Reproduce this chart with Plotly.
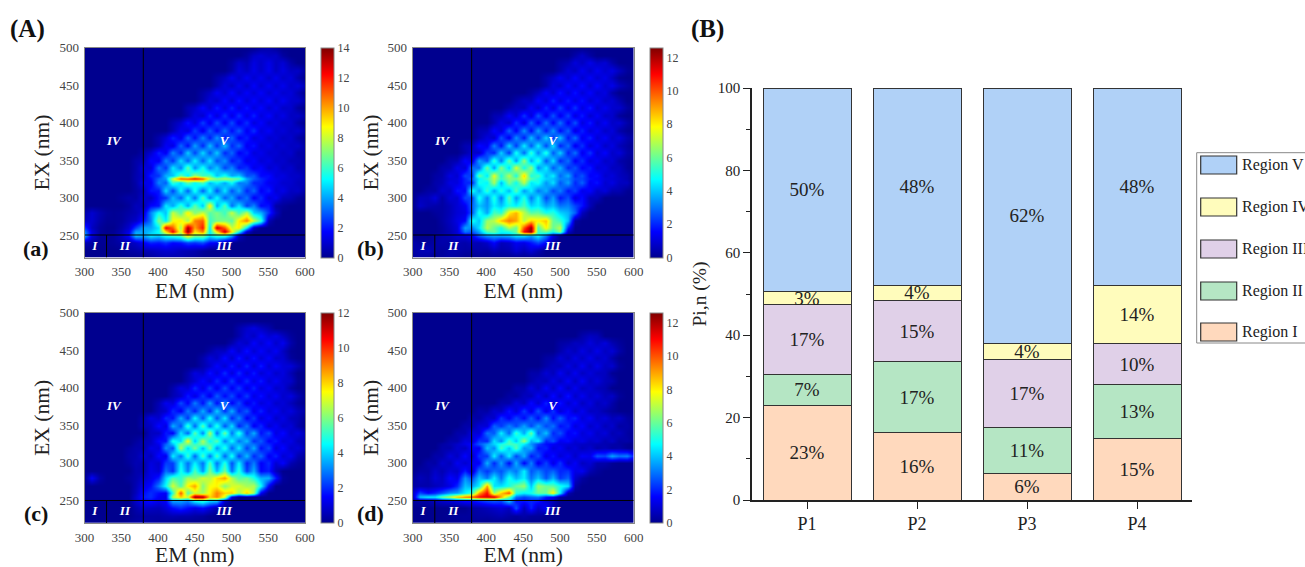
import plotly.graph_objects as go

W, H = 1305, 567
FONT = "Liberation Serif"

# ---------- data ----------
EM = list(range(300, 601, 10))
EX = [500,490,480,470,460,450,440,430,420,410,400,390,380,370,360,350,340,330,325,320,310,300,290,280,270,260,255,250,240,230,220]

# one entry per EX row (top to bottom): EM where the non-zero run starts, values in 10 nm steps; the rest of the row is 0
EEM_A = [
 (540,[.3,.5,.2]),
 (520,[.3,.9,1.1,.8,.9,.3]),
 (500,[.3,.9,.6,1.3,.9,1.4,.8,1.1,.4]),
 (500,[.4,1.2,.8,1.4,.9,1.5,.8,1.3,.8,.9,.2]),
 (480,[.4,.8,1.5,.9,1.6,1,1.5,.9,1.5,.9,1.2,.5]),
 (480,[.5,1.2,.8,1.5,.9,1.7,1,1.6,1,1.5,.9,1.2,.6]),
 (460,[.4,.8,1.6,1,1.8,1,1.7,1.1,1.7,1,1.5,1,1.2,.6]),
 (460,[.5,1.2,.9,1.8,1,2,1.1,1.8,1.1,1.8,1,1.6,1,1,.4]),
 (440,[.6,.9,1.8,1,2.1,1.2,2.2,1.2,2,1.2,1.8,1,1.5,.9,1,.3]),
 (440,[.5,1.3,1,2.2,1.2,2.4,1.3,2.4,1.3,2.2,1.2,1.8,1,1.4,.8,.9,.4]),
 (420,[.5,1,2,1.2,2.6,1.4,2.8,1.5,2.8,1.4,2.4,1.2,1.8,1,1.3,.9,1,.4]),
 (420,[.6,1.5,1.2,2.6,1.4,3,1.7,3.2,1.8,3,1.5,2.4,1.2,1.7,1,1.2,.8,1,.4]),
 (400,[.5,1.1,2.2,1.4,3.2,1.8,3.6,2,3.8,2,3.2,1.6,2.2,1.2,1.6,1,1.2,.8,1,.4,.1]),
 (400,[.5,1.6,1.3,3.2,1.8,4,2.2,4.4,2.4,4.4,2.2,3.2,1.5,2,1.1,1.4,.9,1.1,.8,.9,.3]),
 (380,[.4,1,2.2,1.5,3.6,2.2,4.6,2.6,4.8,2.8,4.6,2.2,3.2,1.6,2.2,1.2,1.5,1,1.1,.8,1,.4,.4]),
 (370,[.4,.6,1.8,1.5,3.6,2.4,4.8,3,5.2,3,5,2.8,3.8,2,2.6,1.4,1.8,1.1,1.4,.9,1,.6,.6,.3]),
 (370,[.4,1.2,1.2,3.4,2.4,5,3.4,6.6,3.6,5.6,3.4,4.6,2.6,3.6,2,2.4,1.4,1.8,1,1.3,.8,1,.5,.5]),
 (370,[.5,.9,2.2,2.4,4.2,4.4,6.6,5,7.4,6,6.4,4.4,5.6,4,4.6,2.8,3,1.8,1.9,1.2,1.3,.9,.9,.5]),
 (370,[.5,1,1.8,3.2,3.8,8,11,11,12,11,8,7,7.5,7,6.5,4,3,2.3,1.8,1.4,1.2,1,.8,.6]),
 (370,[.4,1.4,1.5,3.6,3,6,4.8,6.6,5.2,6.4,4.2,5.2,4,5.4,3.4,3.6,2.2,2.2,1.5,1.4,1,1,.7,.6]),
 (370,[.3,.7,2,2,4.8,2.6,5.2,3,5.6,3,5.4,2.8,5,2.8,4.2,2.2,3.2,1.6,2.2,1.1,1.4,.8,.9,.3]),
 (350,[.2,.4,.3,1,.8,2,2.4,4.4,3,5.4,3.2,6.4,3.4,5.4,3,4.2,2.4,3.4,1.6,2.4,1.2,1.6,.7,.6,.2]),
 (360,[.2,.7,.6,1.8,2,5,4,6,4,6.6,4.4,9,4,6.4,3.2,5,2.6,3.6,1.8,2,.4,.2]),
 (300,[.4,1,.5,.2,.1,.2,.4,.6,1.2,3.6,5.4,4.4,8,6.4,9,7,8,6.4,7,6,8,6,7.8,4.6,4.2,2.4,.8]),
 (300,[.8,1,.4,.1,.1,.2,.6,.9,2,3.4,7,5,8.6,9,7.4,10.5,11,6,6.8,7,6.4,9,10.5,8,6,.6]),
 (300,[2.4,.8,.2,0,0,.4,1,2.6,4,4,5,12.5,11,7.4,13.5,10,12,5,13,11,8,9,5,.8]),
 (300,[3.5,1.2,.2,0,.1,.6,1.4,4,4,4.5,5.4,9,12.5,8,13.8,9,10.5,5,9,13,9,5.5,1]),
 (300,[4,1.2,.2,.1,.2,.8,1.8,4.4,4,5,4.6,5.6,6,6.4,9,7,7,5,6,6,4,.8]),
 (300,[.6,.3,.1,.1,.2,.4,.6,.9,1.6,2.2,2,2.4,1.8,2,2.6,2.4,2.8,1.8,1.6,.3]),
 (350,[.1,.3,.4,.6,.7,.9,1,1,.7,.6,.5,.2]),
 (390,[.2,.4,.5,.4,.5,.3,.2]),
]
EEM_B = [
 (300,[0]),
 (520,[.4,.8,.3]),
 (500,[.3,.5,1.1,.7,1.3,.8,1,.4]),
 (500,[.4,1,.7,1.4,.8,1.4,.9,1.2,.7,.2]),
 (480,[.4,.8,1.4,.9,1.6,.9,1.5,.9,1.3,.7,.1]),
 (480,[.4,1.1,.8,1.6,1,1.7,.9,1.6,.9,1.3,.7,.3]),
 (460,[.3,.7,1.5,.9,1.8,1,1.8,1,1.6,.9,1.2,.4]),
 (440,[.4,.8,.7,1.6,1,2,1.1,1.9,1.1,1.8,.9,1.4,.8,1,.5]),
 (430,[.4,.7,.6,1.5,.9,2,1.1,2.3,1.2,2.2,1.1,1.9,.9,1.4,.9,.9,.3]),
 (410,[.5,.6,1.5,.9,2.2,1.1,2.6,1.3,2.6,1.3,2.4,1.1,1.9,.9,1.5,.8,.9,.2]),
 (410,[.5,1.2,.8,2.2,1.1,2.8,1.4,3,1.5,3,1.4,2.6,1.1,1.9,.9,1.5,.8,1,.4]),
 (390,[.5,.6,1.6,1,2.8,1.4,3.4,1.6,3.6,1.8,3.4,1.6,2.8,1.1,2,1,1.5,.8,1.1,.4,.1]),
 (390,[.5,1.1,.8,2.6,1.3,3.4,1.8,4,2.2,4.2,2.2,4,1.8,3,1.3,2,1,1.5,.8,1.1,.5,.2]),
 (370,[.5,.6,1.7,1.3,3.2,1.7,4.2,2.2,4.6,2.6,4.6,2.4,4.4,1.9,3,1.3,2.2,1,1.6,.8,1.2,.6,.3]),
 (370,[.4,.9,.8,2.4,2,4.2,2.2,5,2.8,5.4,3.2,5.2,2.6,4.2,1.9,3,1.3,2.2,1,1.6,.8,1.1,.4,.2]),
 (350,[.4,.5,1.6,1.1,3.6,2.6,5.4,3,6,3.4,6.6,3.6,5.4,2.6,4.4,2,3,1.4,2.2,1.1,1.5,.8,1,.4,.2]),
 (340,[.4,.5,1.3,1,3,2.8,6,3.4,6.4,4.2,7.4,4.8,6.6,3.2,4.6,2.6,3.8,2,2.6,1.5,1.9,1,1.2,.7,.7,.2]),
 (330,[.3,.4,1.2,.9,2.4,2.2,6,4.4,7.6,5,7,5,8.4,5,5.6,3.8,4.6,2.8,3.8,2,2.6,1.5,1.7,.9,1.1,.7,.5]),
 (330,[.3,.5,1,1.1,2,2.8,4.6,5.4,7,5.4,6.4,6.2,7.6,5.8,5,4.2,4,3.2,3.2,2.4,2.4,1.7,1.5,1.1,1,.8,.5]),
 (330,[.4,.5,1.2,1.1,2,2,5,4.6,6.8,3.8,6.2,4.8,7,4.4,5,3.4,4.4,2.6,3.6,2,2.8,1.4,1.8,.9,1.2,.7,.7]),
 (320,[.3,.3,.9,.7,1.8,1.6,5,3.6,5.4,3.6,5.2,3.8,5.8,3.4,4.6,3,3.8,2.4,3.2,1.8,2.4,1.3,1.6,.8,1.1,.5,.5,.1]),
 (310,[.6,.6,1.1,.3,1,.9,2.4,2.4,5,3.2,5.2,3,5.8,3.4,5.2,3,4.6,2.4,3.6,1.8,2.6,1.1,1.7,.6,.6]),
 (310,[.8,.5,.4,.3,.6,1,1.4,2.8,4,3.4,4.6,4,5,4.6,5.6,4.2,4.6,3.6,4,3,3.2,2.4,1.8,.6]),
 (330,[.2,.3,.6,1,1.2,2.6,5,3.6,5.6,5.2,8,8.8,7,5.8,6,5,5.2,4.2,3.8,2.8,.7]),
 (340,[.3,.7,1.2,1.6,5,4,6.6,7,8.6,9.5,9,7,8.4,8,8.6,6,5.4,4,.3]),
 (340,[.2,.6,1,3.6,3.2,4.4,7,6,5,7,6,10,12.4,5.6,8,6,7,2]),
 (340,[.2,.5,1,3,2.6,3.6,5.6,6,4.8,5,6,11,12.5,5.4,6,5,6.4,.8]),
 (330,[.2,.4,.6,.9,1,1.4,2.6,3.4,3.6,3.6,3.8,4.4,4.4,3.6,4.6,3,1.2]),
 (300,[.4,.2,.2,.3,.4,.3,.5,.4,.6,.5,.8,1.6,.6,.8,1.4,1.2,1.8,2.4,1.6,.2]),
 (300,[.3,.5,.6,.3,.2,.4,.4,.3,.3,.4,.3,.6,.4,.5,1,.6,1,.5]),
 (300,[.2,.3,.2,.1,.2,.3,.2]),
]
EEM_C = [
 (300,[0]),
 (300,[0]),
 (510,[.4,.8,1.1,.7,.4]),
 (510,[.4,1,.7,1.4,.9,1.2,.7,.2]),
 (500,[.4,1,.7,1.5,.9,1.5,.8,1.3,.4]),
 (470,[.3,.7,.7,1.5,.8,1.7,.9,1.5,.9,1.4,.7,.1]),
 (460,[.4,1,.7,1.6,.8,1.8,.9,1.7,.9,1.5,.8,.9,.2]),
 (460,[.4,.8,1.5,.9,1.8,1,1.9,.9,1.8,.9,1.5,1,1,.5]),
 (440,[.4,1.1,.8,1.7,1,2,1,2,1,1.8,.9,1.4,.8,1.1,.5]),
 (440,[.5,.9,1.6,1,2,1.1,2.2,1.1,2,1.1,1.8,.9,1.4,.9,.8,.1]),
 (420,[.4,1.1,.9,2,1.1,2.2,1.2,2.4,1.3,2.2,1.1,1.9,1,1.5,.8,1,.3]),
 (420,[.5,.8,1.8,1.1,2.2,1.2,2.6,1.5,2.4,1.3,2.2,1.1,1.7,1,1.4,.8,1.1,.5]),
 (400,[.5,1.3,1,2.4,1.4,3,1.6,3.4,1.6,3,1.4,2.4,1.1,1.8,1,1.4,.8,1,.6,.2]),
 (400,[.6,.8,2,1.3,3,1.8,3.6,1.9,4,2,3.6,1.8,2.6,1.2,1.9,1,1.4,.8,1.1,.6,.3]),
 (380,[.4,1.1,.8,2,1.6,3.6,2,4.6,2.4,4.8,2.4,4.4,1.9,3.2,1.4,2.2,1,1.6,.8,1.2,.6,.5]),
 (380,[.5,.7,1.6,1.1,3.6,2.4,5.2,2.6,5.6,2.8,5,2.4,4.2,1.8,3,1.3,2,.9,1.4,.8,1,.4]),
 (390,[.7,.7,1.8,1.4,4.2,2.6,5.6,3,6.6,2.8,5.8,2.8,5,2.2,3.6,1.6,2.4,1.1,1.6,.8,1.1,.5]),
 (370,[.2,.5,.7,1.6,1.6,4.8,4,7.4,3.8,6.6,4.4,5.6,3,4.6,2.8,3.8,2,2.6,1.4,1.8,1,1.2,.6,.5]),
 (370,[.3,.5,.8,1.3,2.6,3.8,5.8,6,5,6,5.2,4.6,4,3.6,3.6,3,2.8,2.2,1.9,1.4,1.3,1,.8,.4]),
 (360,[.2,.4,.4,1.2,1,3.2,2.4,6.6,4,6,3.6,6,3.2,5,2.6,4.4,2.2,3.6,1.6,2.4,1,1.6,.8,1,.5]),
 (360,[.3,.4,.9,.6,1.6,1.2,4.4,2.8,5.2,2.6,5.4,2.8,5.4,2.6,4.8,2.2,3.8,1.9,2.8,1.3,1.9,.9,1.3,.5,.2]),
 (360,[.2,.5,.4,1.1,.8,2.2,2.2,4.4,2.8,4.4,2.8,5.4,2.8,5,2.4,4.4,1.9,3,1.4,2,.9,1.5,.5,.2]),
 (370,[.4,.4,1.2,.9,2.8,2,4.8,3,5.4,3.2,6,3.6,5.8,2.8,5,2.2,3.6,1.5,1.8,.6]),
 (310,[1.4,.3,0,0,0,.2,.4,.8,1.2,1.8,4,5.4,5,6.4,6,7,6.6,7.8,8.6,6.6,5.4,5.8,4.8,3.6,3.6,1.8,.2]),
 (370,[.5,1.2,1.6,3,4.6,7,5.4,7.6,8.6,6,7.4,7.6,6,7,7,6.4,6.6,4.6,1.4]),
 (370,[.6,1.6,2,1.6,1.4,5,9.5,5.4,7,6.4,7.6,9,8,8,6.4,8,6.4,1.4]),
 (370,[.8,1.8,2,1.4,1.2,6.6,8,7,11.8,11.5,8,9,7,1]),
 (370,[.8,1.4,1.6,1.2,1.4,3.4,3.4,3,4.4,5,4,3.8,.8]),
 (370,[.4,.8,.7,.6,1,1.6,2,1.6,1.2,1.6,1,.4]),
 (370,[.2,.3,.3,.3,.4,.5,.4,.4,.3,.2]),
 (300,[.2,0,0,0,0,0,.2,.3,.4,.3,.2,.2]),
]
EEM_D = [
 (300,[0]),
 (300,[0]),
 (300,[0]),
 (530,[.4,.7,.6]),
 (500,[.3,.4,.7,.6,1.1,.7,1.1,.5,.2]),
 (500,[.4,.9,.6,1.2,.7,1.3,.7,1,.4]),
 (480,[.3,.4,1,.6,1.2,.7,1.3,.7,1,.4]),
 (480,[.4,.7,.6,1.2,.7,1.4,.7,1.3,.7,.9,.2]),
 (460,[.4,.4,1,.6,1.4,.7,1.4,.7,1.1,.7,.7,.1]),
 (460,[.4,.7,.6,1.2,.7,1.5,.7,1.5,.7,1.1,.6,.5]),
 (440,[.4,.4,1.1,.6,1.5,.7,1.6,.7,1.4,.7,1,.6,.5]),
 (430,[.3,.2,.7,.6,1.4,.7,1.7,.8,1.8,.8,1.4,.8,1.1,.6,.8,.2]),
 (420,[.4,.4,1.1,.7,1.7,.9,2,.9,1.8,.9,1.5,.7,1.2,.6,.9,.4]),
 (390,[.4,.3,.9,.7,1.8,1,2.3,1.2,2.6,1.2,2.2,1,1.7,.8,1.4,.7,.8,.4,.2]),
 (380,[.4,.3,.9,.8,2.2,1.4,2.4,1.6,2.8,1.6,3.4,1.6,2.8,1.6,2,1,1.5,.8,1.1,.6,.8,.3,.1]),
 (370,[.4,.4,1,1,2.8,2.2,3.2,2.4,3.6,2.4,3.6,2.4,3,1.7,2.1,1.1,1.6,.8,1.2,.6,.9,.3,.4,.1]),
 (360,[.4,.4,1.1,1,3,2.6,4.6,2.8,5.4,3.6,6,2.8,4,2,2.6,1.4,1.8,1,1.4,.8,1.1,.5,.7,.3,.1]),
 (350,[.4,.4,1.1,1,2.2,2,4.4,3.2,5.6,4,6.6,3.8,4.6,2,2.6,1.4,1.7,1,1.3,.8,1,.5,.8,.3,.4,.1]),
 (340,[.3,.5,.8,1.2,1.6,2.6,3.4,4.2,5,5.6,5.4,4.6,3.4,2.4,1.7,1.5,1.2,1.1,.9,.8,.7,.6,.5,.4,.3,.1]),
 (340,[.4,.4,.9,.7,1.6,1.4,4,3.2,5.6,4,5.8,3.4,3.8,1.8,2,1.1,1.5,.8,1.1,.6,.9,.4,.6,.3,.4,.1]),
 (330,[.4,.4,1.1,.7,1.6,.8,2.2,2.2,4.6,2.6,4.6,2.4,3.8,1.8,2.6,1.2,1.8,1,1.5,.8,1.5,1.3,2.6,2.4,3.6,3,3.2,1.9]),
 (320,[.4,.3,.9,.6,1.4,.9,1.4,1.4,3.8,2,3.6,1.6,3.8,1.5,3.2,1.3,2.4,1.2,2.2,.9,1.5,.7,1,.4,.4,.1]),
 (310,[.3,.3,.8,.5,1,.8,1.9,.8,3,2.2,3,2.6,3.6,3,4.6,2.6,3.2,2.4,2.8,2,2.2,1.2,1.4,.5,.2]),
 (300,[.2,.6,.4,1,.7,1.6,1.2,3.4,2.4,4,3,4.6,3,5,3.8,4.6,3,4,2.6,3.8,2.2,2.8,.9,.3]),
 (300,[.3,.4,.4,.6,.8,1.2,2,4,3.6,4.6,9,4.4,4.4,5,6,6.6,4,6.6,6,5.8,5,4.4,.4]),
 (300,[.8,2.4,1.6,2,2.6,3.4,3.6,4.6,5.4,9,11,6.6,8.5,10,5.2,4.6,5,6,6,8,4.6,.5]),
 (300,[.6,4,4.5,4.5,6,7,8.4,9.5,10,11,11.5,11.5,9,6,3,2.4,2.8,3,1.8,1.4,.2]),
 (300,[.2,.3,.4,.6,.8,1,1.2,1.6,1.6,2,2.4,2.6,2.4,4,1.8,1.8,2,1.8,1,.6]),
 (380,[.3,.4,.6,.8,1,.7,2.6,.6,2,.8,1.6,.4]),
 (350,[.1,.2,.2,.2,.3,.3,.4,.5,.3,.2,.4,.2,.2]),
 (370,[.2,.1,.1,0,.1]),
]
ZMAX = [14, 12.6, 12, 12.6]
PANEL_LETTERS = ["(a)", "(b)", "(c)", "(d)"]
REGION_NAMES = ["I", "II", "III", "IV", "V"]
REGION_LABEL_EM = [314, 355, 490, 340, 490]
REGION_LABEL_EX = [235, 235, 235, 375, 375]
BOUND_H_EM, BOUND_H_EX = [300, 600], [250, 250]
BOUND_V1_EM, BOUND_V1_EX = [380, 380], [220, 500]
BOUND_V2_EM, BOUND_V2_EX = [330, 330], [220, 250]

SAMPLES = ["P1", "P2", "P3", "P4"]
REGIONS = ["Region I", "Region II", "Region III", "Region IV", "Region V"]
REGION_I   = [23, 16.5, 6.5, 15]
REGION_II  = [7.5, 17, 11, 13]
REGION_III = [17, 15, 16.5, 10]
REGION_IV  = [3, 3.5, 4, 14]
REGION_V   = [49.5, 48, 62, 48]
LABEL_I   = ["23%", "16%", "6%", "15%"]
LABEL_II  = ["7%", "17%", "11%", "13%"]
LABEL_III = ["17%", "15%", "17%", "10%"]
LABEL_IV  = ["3%", "4%", "4%", "14%"]
LABEL_V   = ["50%", "48%", "62%", "48%"]

# ---------- styles ----------
JET = [[0, "#00008f"], [.125, "#0000ff"], [.375, "#00ffff"], [.625, "#ffff00"], [.875, "#ff0000"], [1, "#800000"]]
COLORS = ["#ffd9bd", "#b5e6c4", "#e0d0e8", "#fffcbc", "#b0d1f7"]
GREY = "#444444"

def px(a, b):
    return [a / W, b / W]
def py(top, bottom):
    return [1 - bottom / H, 1 - top / H]
def full(rows):
    out = []
    for start, vals in rows:
        lead = EM.index(start)
        row = [0] * lead + vals
        out.append((row + [0] * len(EM))[:len(EM)])
    return out

PANELS = [
    (84.5, 305, 47.5, 257.5, 321, 36, 248, EEM_A),
    (412.7, 633.7, 47.5, 257.5, 649.5, 370, 248, EEM_B),
    (84.5, 305, 312.7, 523, 321, 36, 513, EEM_C),
    (412.7, 633.7, 312.7, 523, 649.5, 370, 513, EEM_D),
]

fig = go.Figure()
layout = {}
anns = []
shapes = []

for i, (l, r, t, b, cx, lx, ly, z) in enumerate(PANELS):
    n = i + 1
    suf = "" if n == 1 else str(n)
    fig.add_trace(go.Heatmap(
        x=EM, y=EX, z=full(z), zmin=0, zmax=ZMAX[i], colorscale=JET, zsmooth="best",
        xaxis="x" + suf, yaxis="y" + suf,
        colorbar=dict(x=cx / W, xanchor="left", y=1 - t / H, yanchor="top", len=(b - t) / H, lenmode="fraction",
                      thickness=13, thicknessmode="pixels", xpad=0, ypad=0, outlinecolor="#888888", outlinewidth=1,
                      tick0=0, dtick=2, ticks="", tickfont=dict(family=FONT, size=12, color=GREY)),
    ))
    for xs, ys in [(BOUND_H_EM, BOUND_H_EX), (BOUND_V1_EM, BOUND_V1_EX), (BOUND_V2_EM, BOUND_V2_EX)]:
        fig.add_trace(go.Scatter(x=xs, y=ys, mode="lines", line=dict(color="#000000", width=1), showlegend=False,
                                 hoverinfo="skip", xaxis="x" + suf, yaxis="y" + suf))
    fig.add_trace(go.Scatter(x=REGION_LABEL_EM, y=REGION_LABEL_EX, mode="text", text=["<b><i>%s</i></b>" % s for s in REGION_NAMES],
                             textfont=dict(family=FONT, size=13, color="#ffffff"), showlegend=False, hoverinfo="skip",
                             xaxis="x" + suf, yaxis="y" + suf))
    ax = dict(showline=True, linecolor="#888888", linewidth=1, mirror=True, showgrid=False, zeroline=False, ticks="",
              tickfont=dict(family=FONT, size=13, color=GREY), ticklabelstandoff=2)
    layout["xaxis" + suf] = dict(ax, domain=px(l, r), range=[300, 600], dtick=50, tick0=300, anchor="y" + suf,
                                 title=dict(text="EM (nm)", standoff=3, font=dict(family=FONT, size=21.5, color="#222222")))
    layout["yaxis" + suf] = dict(ax, domain=py(t, b), range=[220, 500], tickvals=[250, 300, 350, 400, 450, 500], anchor="x" + suf,
                                 title=dict(text="EX (nm)", standoff=3, font=dict(family=FONT, size=21.5, color="#222222")))
    anns.append(dict(text="<b>%s</b>" % PANEL_LETTERS[i], x=lx / W, y=1 - ly / H, xref="paper", yref="paper", showarrow=False,
                     font=dict(family=FONT, size=22, color="#111111"), xanchor="center", yanchor="middle"))

# ---------- stacked bars ----------
series = [(REGION_I, LABEL_I), (REGION_II, LABEL_II), (REGION_III, LABEL_III), (REGION_IV, LABEL_IV), (REGION_V, LABEL_V)]
for k, (vals, labs) in enumerate(series):
    fig.add_trace(go.Bar(x=SAMPLES, y=vals, name=REGIONS[k], text=labs, textposition="inside", insidetextanchor="middle",
                         constraintext="none", textangle=0, width=0.8, showlegend=False,
                         textfont=dict(family=FONT, size=19, color="#222222"),
                         marker=dict(color=COLORS[k], line=dict(color="#333333", width=1)),
                         xaxis="x5", yaxis="y5"))

layout["xaxis5"] = dict(domain=px(752, 1192), range=[-0.5, 3.5], anchor="y5", type="category", showline=True, linecolor="#222222",
                        linewidth=1.5, ticks="outside", ticklen=7, tickwidth=1.3, tickcolor="#222222", showgrid=False,
                        tickfont=dict(family=FONT, size=18, color="#222222"))
layout["yaxis5"] = dict(domain=py(88, 500), range=[0, 100], anchor="x5", showline=True, linecolor="#222222", linewidth=1.5,
                        ticks="outside", ticklen=7, tickwidth=1.3, tickcolor="#222222", showgrid=False, zeroline=False, dtick=20,
                        minor=dict(dtick=10, ticks="outside", ticklen=4, tickcolor="#222222", tickwidth=1.3),
                        tickfont=dict(family=FONT, size=15, color="#222222"),
                        title=dict(text="Pi,n (%)", standoff=6, font=dict(family=FONT, size=19.5, color="#222222")))

# ---------- hand-made legend box ----------
shapes.append(dict(type="rect", xref="paper", yref="paper", x0=1196.7 / W, x1=1320 / W, y0=1 - 343 / H, y1=1 - 152.7 / H,
                   line=dict(color="#888888", width=1), fillcolor="#ffffff"))
SWATCH_TOPS = [156, 198, 240, 282, 323]
for k, top in enumerate(SWATCH_TOPS):
    name = REGIONS[4 - k]
    shapes.append(dict(type="rect", xref="paper", yref="paper", x0=1200.7 / W, x1=1236.7 / W, y0=1 - (top + 18) / H, y1=1 - top / H,
                       line=dict(color="#333333", width=1.2), fillcolor=COLORS[4 - k]))
    anns.append(dict(text=name, x=1240 / W, y=1 - (top + 9) / H, xref="paper", yref="paper", showarrow=False, xanchor="left",
                     yanchor="middle", font=dict(family=FONT, size=16, color="#222222")))

anns.append(dict(text="<b>(A)</b>", x=27.5 / W, y=1 - 29 / H, xref="paper", yref="paper", showarrow=False, xanchor="center", yanchor="middle",
                 font=dict(family=FONT, size=25, color="#111111")))
anns.append(dict(text="<b>(B)</b>", x=707 / W, y=1 - 29 / H, xref="paper", yref="paper", showarrow=False, xanchor="center", yanchor="middle",
                 font=dict(family=FONT, size=25, color="#111111")))

fig.update_layout(width=W, height=H, margin=dict(l=0, r=0, t=0, b=0, autoexpand=False), autosize=False, barmode="stack",
                  paper_bgcolor="#ffffff", plot_bgcolor="#ffffff", annotations=anns, shapes=shapes, **layout)
fig.write_html("out.html", config=dict(displayModeBar=False),
               post_script="document.body.style.margin='0';document.body.style.overflow='hidden';")
